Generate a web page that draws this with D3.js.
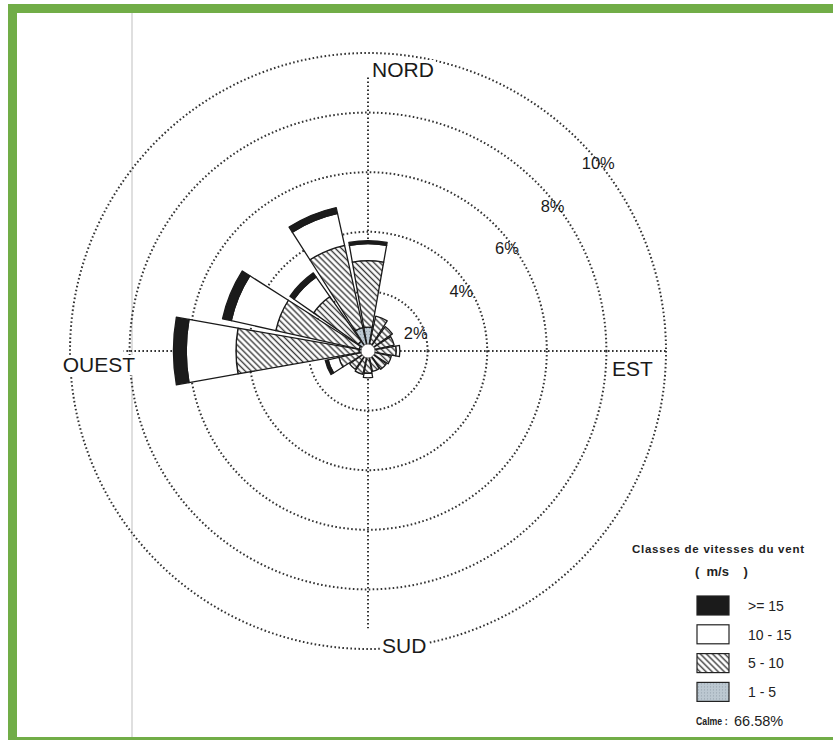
<!DOCTYPE html>
<html>
<head>
<meta charset="utf-8">
<script src="https://cdn.jsdelivr.net/npm/d3@7"></script>
<style>
  body { margin: 0; background: #fff; }
  svg { display: block; font-family: 'Liberation Sans', Arial, sans-serif; }
</style>
</head>
<body>
<svg id="rose" width="833" height="740"></svg>
<script>
// 16 sectors, clockwise from north
const directions = ['N', 'NNE', 'NE', 'ENE', 'E', 'ESE', 'SE', 'SSE', 'S', 'SSW', 'SW', 'WSW', 'W', 'WNW', 'NW', 'NNW']
// frequency (%) per speed class, inner class first
const speed1to5 = [0.8, 0.25, 0.2, 0.2, 0.2, 0.2, 0.2, 0.2, 0.2, 0.2, 0.2, 0.2, 0.3, 0.3, 0.4, 0.8]
const speed5to10 = [2.23, 0.95, 0.8, 0.7, 0.75, 0.6, 0.55, 0.5, 0.55, 0.6, 0.55, 0.8, 4.13, 2.87, 1.83, 2.83]
const speed10to15 = [0.57, 0, 0, 0, 0.12, 0, 0, 0, 0.15, 0, 0, 0.37, 1.67, 1.53, 0.8, 1.1]
const speed15plus = [0.1, 0, 0, 0, 0, 0, 0, 0, 0, 0, 0, 0.1, 0.43, 0.3, 0.17, 0.2]
const ringTicks = [2, 4, 6, 8, 10]
const classLabels = ['>= 15', '10 - 15', '5 - 10', '1 - 5']
const calmText = '66.58%'

const svg = d3.select('#rose')
const cx = 368
const cy = 351
const r = d3.scaleLinear().domain([0, 10]).range([0, 298])

// patterns
const defs = svg.append('defs')
const hatch = defs.append('pattern')
  .attr('id', 'hatch')
  .attr('patternUnits', 'userSpaceOnUse')
  .attr('width', 4.3).attr('height', 4.3)
  .attr('patternTransform', 'rotate(45)')
hatch.append('rect').attr('width', 4.3).attr('height', 4.3).attr('fill', '#fff')
hatch.append('line')
  .attr('x1', 0).attr('y1', 2.15).attr('x2', 4.3).attr('y2', 2.15)
  .attr('stroke', '#3a3a3a').attr('stroke-width', 1.4)

const dots = defs.append('pattern')
  .attr('id', 'dots')
  .attr('patternUnits', 'userSpaceOnUse')
  .attr('width', 3).attr('height', 3)
dots.append('rect').attr('width', 3).attr('height', 3).attr('fill', '#bcc8d1')
dots.append('circle').attr('cx', 1.5).attr('cy', 1.5).attr('r', 0.6).attr('fill', '#8f9ca7')

// frame
svg.append('rect').attr('width', 833).attr('height', 740).attr('fill', '#fff')
svg.append('line')
  .attr('x1', 132).attr('y1', 13).attr('x2', 132).attr('y2', 737)
  .attr('stroke', '#d4d4d4').attr('stroke-width', 1.5)

const g = svg.append('g').attr('transform', `translate(${cx},${cy})`)

// grid rings
g.selectAll('circle.ring')
  .data(ringTicks)
  .enter()
  .append('circle')
  .attr('class', 'ring')
  .attr('r', d => r(d))
  .attr('fill', 'none')
  .attr('stroke', '#333')
  .attr('stroke-width', 2)
  .attr('stroke-dasharray', '1.6,2.4')

// axes (N, E, S, W) with the lengths they have in the picture
const axisEnds = [[0, -r(9.2)], [r(10), 0], [0, r(9.3)], [-r(8.2), 0]]
g.selectAll('line.axis')
  .data(axisEnds)
  .enter()
  .append('line')
  .attr('class', 'axis')
  .attr('x1', 0).attr('y1', 0)
  .attr('x2', d => d[0]).attr('y2', d => d[1])
  .attr('stroke', '#333')
  .attr('stroke-width', 2)
  .attr('stroke-dasharray', '1.6,2.4')

// stacked bars
const series = [
  { values: speed1to5, fill: 'url(#dots)' },
  { values: speed5to10, fill: 'url(#hatch)' },
  { values: speed10to15, fill: '#fff' },
  { values: speed15plus, fill: '#1b1b1b' }
]
const step = (2 * Math.PI) / directions.length
const half = (10 * Math.PI) / 180
const segments = []
directions.forEach((dir, i) => {
  let acc = 0
  series.forEach(s => {
    const v = s.values[i]
    if (v > 0) {
      segments.push({ dir, i, inner: acc, outer: acc + v, fill: s.fill })
    }
    acc += v
  })
})
const arc = d3.arc()
  .innerRadius(d => r(d.inner))
  .outerRadius(d => r(d.outer))
  .startAngle(d => d.i * step - half)
  .endAngle(d => d.i * step + half)

g.selectAll('path.seg')
  .data(segments)
  .enter()
  .append('path')
  .attr('class', 'seg')
  .attr('d', arc)
  .attr('fill', d => d.fill)
  .attr('stroke', '#1a1a1a')
  .attr('stroke-width', 1.3)
  .attr('stroke-linejoin', 'round')

g.append('circle').attr('r', 7).attr('fill', '#fff').attr('stroke', '#555').attr('stroke-width', 0.8)

// ring labels
g.selectAll('text.tick')
  .data(ringTicks)
  .enter()
  .append('text')
  .attr('class', 'tick')
  .attr('x', d => 0.766 * r(d) + 2)
  .attr('y', d => -0.713 * r(d) + 25)
  .attr('dy', '0.35em')
  .attr('text-anchor', 'middle')
  .attr('font-size', 16.5)
  .attr('fill', '#1a1a1a')
  .text(d => d + '%')

// cardinal labels
const cardinals = [
  { t: 'NORD', x: 4, y: -274, anchor: 'start' },
  { t: 'EST', x: 244, y: 25, anchor: 'start' },
  { t: 'SUD', x: 14, y: 302, anchor: 'start' },
  { t: 'OUEST', x: -233, y: 21, anchor: 'end' }
]
const card = g.selectAll('g.card')
  .data(cardinals)
  .enter()
  .append('g')
  .attr('class', 'card')
card.append('text')
  .attr('x', d => d.x)
  .attr('y', d => d.y)
  .attr('text-anchor', d => d.anchor)
  .attr('font-size', 21)
  .attr('fill', '#1a1a1a')
  .text(d => d.t)
card.each(function () {
  const t = d3.select(this).select('text')
  const b = t.node().getBBox()
  d3.select(this).insert('rect', 'text')
    .attr('x', b.x - 2).attr('y', b.y + 2)
    .attr('width', b.width + 4).attr('height', b.height - 3)
    .attr('fill', '#fff')
})

// legend
const legend = svg.append('g')
legend.append('text')
  .attr('x', 718).attr('y', 553)
  .attr('text-anchor', 'middle')
  .attr('font-size', 11.5).attr('font-weight', 'bold')
  .attr('fill', '#222')
  .attr('textLength', 172)
  .text('Classes de vitesses du vent')
legend.append('text')
  .attr('x', 695).attr('y', 576)
  .attr('font-size', 13).attr('font-weight', 'bold')
  .attr('fill', '#222')
  .attr('xml:space', 'preserve')
  .style('white-space', 'pre')
  .text('(  m/s    )')

const legendFills = ['#1b1b1b', '#fff', 'url(#hatch)', 'url(#dots)']
const rows = legend.selectAll('g.row')
  .data(classLabels)
  .enter()
  .append('g')
  .attr('class', 'row')
  .attr('transform', (d, i) => `translate(697,${596 + i * 28.8})`)
rows.append('rect')
  .attr('width', 32).attr('height', 19)
  .attr('fill', (d, i) => legendFills[i])
  .attr('stroke', '#222').attr('stroke-width', 1.2)
rows.append('text')
  .attr('x', 51).attr('y', 10)
  .attr('dy', '0.35em')
  .attr('font-size', 14)
  .attr('fill', '#222')
  .text(d => d)

// calm share: label squeezed horizontally like the scan
legend.append('g')
  .attr('transform', 'translate(696,725) scale(0.76,1)')
  .append('text')
  .attr('font-size', 11.5).attr('font-weight', 'bold')
  .attr('fill', '#222')
  .text('Calme :')
legend.append('text')
  .attr('x', 734).attr('y', 726)
  .attr('font-size', 14.5)
  .attr('fill', '#222')
  .text(calmText)

// green border
const green = '#71ad47'
svg.append('rect').attr('x', 8).attr('y', 4).attr('width', 825).attr('height', 9).attr('fill', green)
svg.append('rect').attr('x', 8).attr('y', 4).attr('width', 9).attr('height', 736).attr('fill', green)
svg.append('rect').attr('x', 8).attr('y', 737).attr('width', 825).attr('height', 3).attr('fill', green)
</script>
</body>
</html>
